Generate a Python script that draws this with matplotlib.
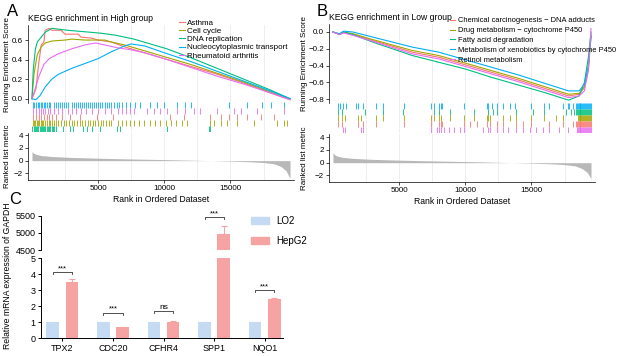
import numpy as np
import matplotlib.pyplot as plt
from matplotlib.patches import Patch

plt.rcParams['font.family'] = ['Liberation Sans', 'DejaVu Sans']

W, H = 629, 356

# ggplot default hue colours
RED, OLIVE, GREEN, CYAN, MAGENTA = '#F8766D', '#A3A500', '#00BF7D', '#00B0F6', '#E76BF3'

# ---------------- panel A: running enrichment scores ----------------
a_names = ['Asthma', 'Cell cycle', 'DNA replication',
           'Nucleocytoplasmic transport', 'Rheumatoid arthritis']
a_colors = [RED, OLIVE, GREEN, CYAN, MAGENTA]

asthma_x = [0, 300, 500, 700, 900, 1000, 1300, 1500, 2200, 2500, 3500, 3700, 4500, 5000,
            6000, 7000, 8000, 9000, 10000, 12000, 14000, 16000, 18000, 19500]
asthma_y = [0.0, 0.1, 0.35, 0.55, 0.58, 0.70, 0.72, 0.70, 0.70, 0.66, 0.66, 0.63, 0.62, 0.60,
            0.58, 0.53, 0.49, 0.45, 0.41, 0.33, 0.25, 0.16, 0.06, -0.01]
cellcycle_x = [0, 150, 400, 700, 1000, 1500, 2500, 3000, 4000, 5500, 6000, 7000, 8000,
               10000, 12000, 14000, 16000, 18000, 19500]
cellcycle_y = [0.0, 0.25, 0.45, 0.53, 0.57, 0.59, 0.60, 0.61, 0.60, 0.60, 0.58, 0.55, 0.51,
               0.43, 0.35, 0.26, 0.17, 0.07, 0.0]
dna_x = [0, 100, 250, 400, 700, 1000, 1500, 2700, 4400, 5200, 6300, 7700, 10200, 12000,
         14000, 16000, 18000, 19500]
dna_y = [0.0, 0.3, 0.5, 0.58, 0.63, 0.68, 0.72, 0.70, 0.68, 0.67, 0.65, 0.61, 0.51, 0.42,
         0.31, 0.20, 0.09, 0.0]
nucleo_x = [0, 300, 600, 1000, 1500, 2000, 3000, 4000, 5000, 6000, 7000, 7500, 8500,
            10000, 12000, 14000, 16000, 18000, 19500]
nucleo_y = [0.0, -0.01, 0.03, 0.12, 0.20, 0.25, 0.31, 0.36, 0.41, 0.48, 0.54, 0.56, 0.54,
            0.47, 0.38, 0.28, 0.18, 0.08, 0.0]
rheum_x = [0, 200, 500, 900, 1300, 2000, 3000, 4000, 4800, 5500, 6500, 7500, 8500, 10000,
           12000, 14000, 16000, 18000, 19500]
rheum_y = [0.0, 0.08, 0.22, 0.35, 0.41, 0.46, 0.51, 0.55, 0.57, 0.55, 0.52, 0.50, 0.47, 0.41,
           0.32, 0.23, 0.15, 0.06, -0.01]

# hit positions (rank) for panel A, listed top row to bottom row
hits_nucleo = [60, 180, 300, 420, 540, 660, 780, 900, 1020, 1150, 1280, 1400, 1700, 1850,
               2000, 2150, 2300, 2450, 2600, 2750, 3000, 3150, 3300, 3450, 3600, 3750, 3900,
               4050, 4200, 4400, 4550, 4700, 4850, 5000, 5150, 5300, 5500, 5650, 5800, 6000,
               6200, 6400, 6600, 6800, 7100, 7400, 7800, 8200, 8950, 9450, 9950, 10970,
               11600, 11980, 14860, 16270, 17410, 18040, 19050]
hits_rheum = [100, 300, 500, 650, 800, 1000, 1200, 1400, 1700, 2000, 2300, 2700, 3000, 3300,
              3700, 4100, 4500, 5000, 5500, 6000, 6500, 6800, 7100, 7400, 7700, 8690, 9200,
              9700, 10210, 10970, 11600, 12230, 12730, 14000, 15260, 15770, 17030, 19050]
hits_asthma = [100, 300, 500, 700, 900, 1100, 1300, 1550, 1800, 2300, 2900, 3600, 4900, 6100,
               10460, 11470, 13490, 14250, 14880, 15510, 16270, 17280, 18290]
hits_cellcycle = [50, 150, 250, 350, 450, 550, 650, 750, 850, 950, 1100, 1250, 1400, 1550,
                  1700, 1850, 2000, 2200, 2400, 2600, 2800, 3000, 3200, 3400, 3600, 3800,
                  4000, 4200, 4400, 4600, 4800, 5000, 5200, 5400, 5600, 5800, 6000, 6500,
                  6800, 7100, 7400, 7700, 8100, 8500, 8900, 9300, 9700, 10100, 10500, 10900,
                  11300, 11700, 13490, 13740, 14250, 14760, 15510, 16770, 18550, 19050, 19300]
hits_dna = [30, 120, 210, 300, 390, 480, 570, 660, 750, 840, 930, 1020, 1110, 1200, 1300,
            1400, 1500, 1600, 1700, 1800, 2370, 2880, 3130, 3890, 4150, 4520, 5150, 6420,
            6670, 10210, 13360, 13490]

metric_a_x = [0, 100, 300, 700, 1500, 3000, 5000, 7000, 9000, 11000, 12500, 13500, 15000,
              16500, 17500, 18300, 18800, 19200, 19500]
metric_a_y = [1.4, 1.2, 1.0, 0.8, 0.65, 0.5, 0.38, 0.28, 0.2, 0.12, 0.05, 0.0, -0.08, -0.18,
              -0.3, -0.5, -0.9, -1.6, -2.8]

# ---------------- panel B ----------------
b_names = ['Chemical carcinogenesis \u2212 DNA adducts', 'Drug metabolism \u2212 cytochrome P450',
           'Fatty acid degradation', 'Metabolism of xenobiotics by cytochrome P450',
           'Retinol metabolism']
b_colors = [RED, OLIVE, GREEN, CYAN, MAGENTA]

b_x = [0, 500, 800, 1500, 3000, 6000, 8000, 10000, 12000, 14000, 16000, 17800, 18600, 19000,
       19300, 19500]
chem_y = [0.0, -0.03, -0.01, -0.03, -0.10, -0.24, -0.30, -0.39, -0.48, -0.57, -0.67, -0.76,
          -0.74, -0.66, -0.40, -0.03]
drug_y = [0.0, -0.03, 0.0, -0.02, -0.09, -0.22, -0.28, -0.37, -0.46, -0.55, -0.65, -0.74,
          -0.73, -0.65, -0.45, -0.05]
fatty_y = [0.0, -0.03, 0.0, -0.03, -0.12, -0.28, -0.36, -0.44, -0.54, -0.63, -0.72, -0.81,
           -0.76, -0.60, -0.30, 0.0]
xeno_y = [0.0, -0.02, 0.01, 0.0, -0.06, -0.18, -0.24, -0.33, -0.42, -0.51, -0.61, -0.70,
          -0.70, -0.62, -0.40, -0.05]
retinol_y = [0.0, -0.03, -0.01, -0.04, -0.11, -0.26, -0.32, -0.41, -0.50, -0.59, -0.69, -0.78,
             -0.76, -0.70, -0.45, 0.04]

b_tail = [18350, 18420, 18490, 18560, 18630, 18700, 18770, 18840, 18910, 18980, 19050, 19120,
          19190, 19260, 19330, 19400, 19470]
hits_xeno = [400, 520, 770, 1020, 1770, 1900, 2270, 3270, 3770, 5390, 7380, 7630, 8000, 8130,
             8250, 9870, 11620, 11740, 11990, 12360, 12870, 13370, 13740, 14980, 15980, 16360,
             17350, 17730, 17850, 18100]
hits_fatty = [400, 650, 2390, 3770, 5260, 7630, 8000, 8880, 10620, 11740, 12120, 12360, 13860,
              15110, 15980, 17600, 17980, 18230]
hits_drug = [400, 650, 900, 1900, 2140, 3270, 3770, 5390, 7380, 7630, 8000, 8130, 8880, 9870,
             10620, 11620, 11740, 11870, 12870, 13370, 13860, 14980, 15980, 16860, 17350]
hits_chem = [400, 650, 1900, 2270, 3270, 5390, 7380, 8000, 8130, 8250, 9870, 10370, 10870,
             11620, 11870, 12360, 12870, 13860, 14360, 14980, 16360, 17350, 18100]
hits_retinol = [770, 900, 2140, 2270, 7380, 7880, 8000, 8130, 8380, 8750, 9120, 9620, 9870,
                11370, 11740, 11870, 12360, 12870, 13240, 13860, 14360, 14860, 15360, 15860,
                16360, 17100, 17730]

metric_b_y = [1.6, 1.3, 1.05, 0.85, 0.68, 0.52, 0.4, 0.3, 0.22, 0.14, 0.06, 0.0, -0.08, -0.18,
              -0.3, -0.5, -0.9, -1.5, -2.5]

# ---------------- panel C: qPCR ----------------
genes = ['TPX2', 'CDC20', 'CFHR4', 'SPP1', 'NQO1']
lo2_mean = [1.0, 1.0, 1.0, 1.0, 1.0]
lo2_err = [0.04, 0.05, 0.05, 0.04, 0.04]
hepg2_mean = [3.55, 0.68, 1.05, 4960, 2.45]
hepg2_err = [0.15, 0.02, 0.05, 240, 0.08]
sig_text = ['***', '***', 'ns', '***', '***']
sig_height = [4.15, 1.6, 1.72, 5465, 3.02]


def box(l, t, r, b):
    return [l / W, 1 - b / H, (r - l) / W, (b - t) / H]


fig = plt.figure(figsize=(W / 100, H / 100), dpi=100)
XLIM = (-300, 19800)
GRID = '#ebebeb'
FS = 5.8


def grid(ax):
    for g in range(2500, 19000, 2500):
        ax.axvline(g, color=GRID, lw=0.6, zorder=0)


def gsea_panel(left, right, es_tb, hit_tb, met_tb, es_lim, met_lim, es_ticks,
               curves, hit_rows, metric_x, metric_y, title, names, colors,
               leg_xy, leg_fs, leg_sp, ylab_x):
    ax1 = fig.add_axes(box(left, es_tb[0], right, es_tb[1]))
    ax2 = fig.add_axes(box(left, hit_tb[0], right, hit_tb[1]))
    ax3 = fig.add_axes(box(left, met_tb[0], right, met_tb[1]))
    for ax in (ax1, ax2, ax3):
        ax.set_xlim(*XLIM)
        grid(ax)
        for s in ['top', 'right']:
            ax.spines[s].set_visible(False)
        ax.tick_params(labelsize=FS, length=2, width=0.5, pad=1.5)
    # running ES
    lines = []
    for (cx, cy), c in zip(curves, colors):
        lines.append(ax1.plot(cx, cy, color=c, lw=0.8)[0])
    ax1.set_ylim(*es_lim)
    ax1.set_yticks(es_ticks)
    ax1.set_yticklabels([f'{t:.1f}'.replace('-', '\u2212') for t in es_ticks])
    ax1.set_xticks([])
    ax1.spines['bottom'].set_visible(False)
    ax1.spines['left'].set_linewidth(0.5)
    ax1.set_ylabel('Running Enrichment Score', fontsize=FS)
    ax1.yaxis.set_label_coords((ylab_x - left) / (right - left), 0.5)
    ax1.text(0.0, 1.02, title, transform=ax1.transAxes, fontsize=6.2, va='bottom')
    ax1.legend(lines, names, loc='upper left', bbox_to_anchor=leg_xy,
               bbox_transform=fig.transFigure, frameon=False, fontsize=leg_fs,
               handlelength=0.7, handletextpad=0.3, labelspacing=leg_sp,
               borderpad=0, borderaxespad=0)
    # hits
    n = len(hit_rows)
    for i, (hx, c) in enumerate(hit_rows):
        ax2.vlines(hx, n - i - 1, n - i, color=c, lw=0.6)
    ax2.set_ylim(0, n)
    ax2.axis('off')
    # ranked list metric
    ax3.fill_between(metric_x, 0, metric_y, color='#b8b8b8', lw=0)
    ax3.set_ylim(*met_lim)
    ax3.set_yticks([-2, 0, 2, 4])
    ax3.set_yticklabels(['\u22122', '0', '2', '4'])
    ax3.set_xticks([5000, 10000, 15000])
    ax3.spines['left'].set_linewidth(0.5)
    ax3.spines['bottom'].set_linewidth(0.5)
    ax3.set_ylabel('Ranked list metric', fontsize=FS)
    ax3.yaxis.set_label_coords((ylab_x - left) / (right - left), 0.5)
    ax3.set_xlabel('Rank in Ordered Dataset', fontsize=6.2, labelpad=2)
    return ax1, ax3


a1, a3 = gsea_panel(28, 294, (25, 103), (102.5, 132.5), (133, 180),
                    (-0.044, 0.754), (-3.05, 4.35), [0.0, 0.2, 0.4, 0.6],
                    [(asthma_x, asthma_y), (cellcycle_x, cellcycle_y), (dna_x, dna_y),
                     (nucleo_x, nucleo_y), (rheum_x, rheum_y)],
                    [(hits_nucleo, CYAN), (hits_rheum, MAGENTA), (hits_asthma, RED),
                     (hits_cellcycle, OLIVE), (hits_dna, GREEN)],
                    metric_a_x, metric_a_y, 'KEGG enrichment in High group',
                    a_names, a_colors, (179 / W, 1 - 19 / H), 5.8, 0.08, 11)

b1, b3 = gsea_panel(329, 595, (24, 103), (103, 133.3), (134, 182.3),
                    (-0.844, 0.095), (-3.09, 4.52), [-0.8, -0.6, -0.4, -0.2, 0.0],
                    [(b_x, chem_y), (b_x, drug_y), (b_x, fatty_y), (b_x, xeno_y),
                     (b_x, retinol_y)],
                    [(hits_xeno + b_tail, CYAN), (hits_fatty + b_tail, GREEN),
                     (hits_drug + b_tail[2:], OLIVE), (hits_chem + b_tail, RED),
                     (hits_retinol + b_tail[1:], MAGENTA)],
                    metric_a_x, metric_b_y, 'KEGG enrichment in Low group',
                    b_names, b_colors, (450 / W, 1 - 17 / H), 5.4, 0.35, 308)

# ---------------- panel C ----------------
LO2_C, HEP_C = '#C5DBF4', '#F5A3A3'
axl = fig.add_axes(box(41, 258.3, 283, 338.3))
axu = fig.add_axes(box(41, 215.7, 283, 250))
xpos = np.arange(len(genes))
off, bw = 0.19, 0.25
for ax in (axl, axu):
    ax.bar(xpos - off, lo2_mean, bw, color=LO2_C, zorder=2)
    ax.bar(xpos + off, hepg2_mean, bw, color=HEP_C, zorder=2)
    ax.errorbar(xpos - off, lo2_mean, yerr=[[0] * 5, lo2_err], fmt='none', ecolor=LO2_C,
                elinewidth=0.8, capsize=2, capthick=0.8, zorder=1)
    ax.errorbar(xpos + off, hepg2_mean, yerr=[[0] * 5, hepg2_err], fmt='none', ecolor=HEP_C,
                elinewidth=0.8, capsize=2, capthick=0.8, zorder=1)
    ax.set_xlim(-0.42, 4.36)
    for s in ['top', 'right']:
        ax.spines[s].set_visible(False)
    ax.spines['left'].set_linewidth(0.7)
    ax.spines['bottom'].set_linewidth(0.7)
    ax.tick_params(labelsize=6.5, length=2.5, width=0.7, pad=1.5)

axl.set_ylim(0, 5)
axl.set_yticks(range(0, 6))
axl.set_xticks(xpos)
axl.set_xticklabels(genes)
axu.set_ylim(4500, 5500)
axu.set_yticks([4500, 5000, 5500])
axu.set_xticks([])
axu.spines['bottom'].set_visible(False)

for i, (txt, h) in enumerate(zip(sig_text, sig_height)):
    ax = axu if h > 100 else axl
    d = 60 if h > 100 else 0.12
    x0, x1 = i - off, i + off
    ax.plot([x0, x0, x1, x1], [h - d, h, h, h - d], color='#333333', lw=0.6)
    ax.text(i, h, txt, ha='center', va='bottom', fontsize=6 if txt == 'ns' else 5.5)

fig.text(8 / W, 1 - 276 / H, 'Relative mRNA expression of GAPDH', rotation=90,
         ha='center', va='center', fontsize=6.2)
fig.legend(handles=[Patch(color=LO2_C), Patch(color=HEP_C)], labels=['LO2', 'HepG2'],
           loc='upper left', bbox_to_anchor=(251 / W, 1 - 216 / H), frameon=False,
           fontsize=7, handlelength=1.8, handleheight=0.8, labelspacing=1.0,
           borderpad=0, borderaxespad=0)

# panel letters
fig.text(13 / W, 1 - 11 / H, 'A', fontsize=12, ha='center', va='center')
fig.text(322 / W, 1 - 11 / H, 'B', fontsize=12, ha='center', va='center')
fig.text(15 / W, 1 - 200 / H, 'C', fontsize=12, ha='center', va='center')

fig.savefig('out.png', dpi=100)
